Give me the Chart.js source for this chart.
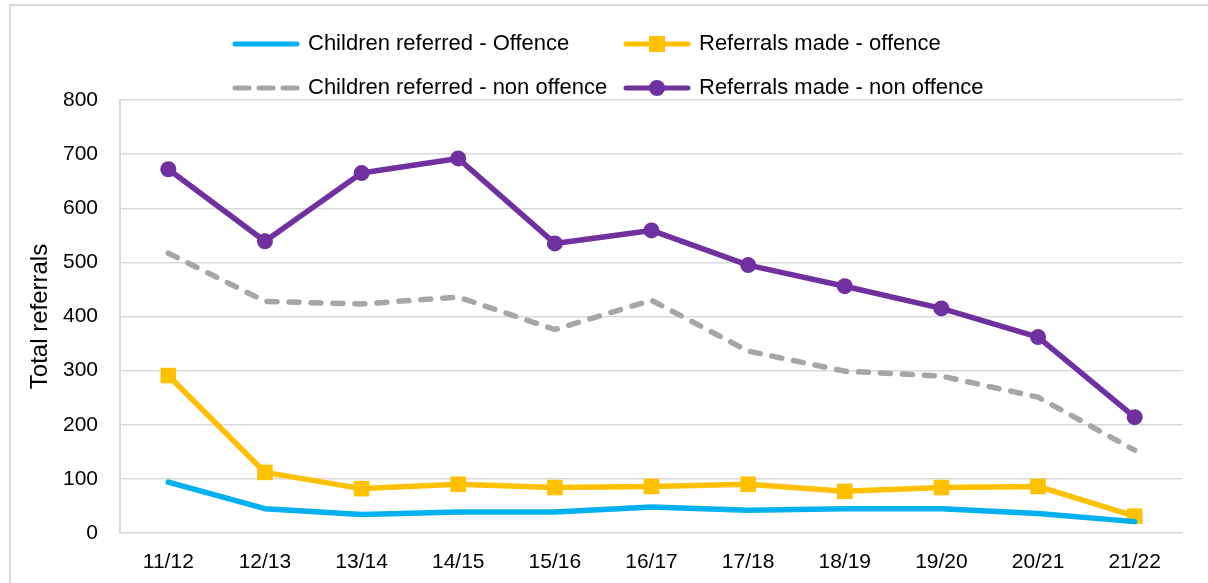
<!DOCTYPE html>
<html>
<head>
<meta charset="utf-8">
<script src="https://cdn.jsdelivr.net/npm/chart.js@4"></script>
<style>
  html, body { margin: 0; padding: 0; background: #fff; overflow: hidden; }
  #wrap { position: relative; width: 1208px; height: 583px; }
  #frame { position: absolute; left: 9px; top: 4px; width: 1220px; height: 600px; border: 2px solid #d9d9d9; box-sizing: border-box; }
  canvas { position: absolute; left: 0; top: 0; }
  .lg { position: absolute; font-family: 'Liberation Sans', Arial, sans-serif; font-size: 22px; color: #000; height: 30px; line-height: 30px; white-space: nowrap; }
  .lg canvas { position: static; vertical-align: middle; margin-right: 7px; }
</style>
</head>
<body>
<div id="wrap">
  <div id="frame"></div>
  <canvas id="chart" width="1208" height="583"></canvas>
  <div id="legend"></div>
</div>
<script>
// ===== data =====
const years = ['11/12', '12/13', '13/14', '14/15', '15/16', '16/17', '17/18', '18/19', '19/20', '20/21', '21/22'];
const childrenOffence = [94, 45, 34, 39, 39, 48, 42, 45, 45, 36, 21];
const referralsOffence = [291, 112, 82, 90, 84, 86, 90, 77, 84, 86, 31];
const childrenNonOffence = [517, 428, 423, 436, 376, 430, 336, 299, 290, 251, 153];
const referralsNonOffence = [672, 539, 665, 692, 535, 559, 495, 456, 415, 362, 214];
const yTicks = [0, 100, 200, 300, 400, 500, 600, 700, 800];

const FONT = "'Liberation Sans', Arial, sans-serif";

const series = [
  { label: 'Children referred - Offence', data: childrenOffence, color: '#00b0f0', point: false, dash: [] },
  { label: 'Referrals made - offence', data: referralsOffence, color: '#ffc000', point: 'rect', radius: 11, dash: [] },
  { label: 'Children referred - non offence', data: childrenNonOffence, color: '#a6a6a6', point: false, dash: [10, 12] },
  { label: 'Referrals made - non offence', data: referralsNonOffence, color: '#7030a0', point: 'circle', radius: 8, dash: [] },
];

new Chart(document.getElementById('chart'), {
  type: 'line',
  data: {
    labels: years,
    datasets: series.map(s => ({
      label: s.label,
      data: s.data,
      borderColor: s.color,
      backgroundColor: s.color,
      borderWidth: 5.5,
      borderDash: s.dash,
      borderCapStyle: 'round',
      borderJoinStyle: 'round',
      pointStyle: s.point || 'circle',
      pointRadius: s.point ? s.radius : 0,
      pointHoverRadius: s.point ? s.radius : 0,
      pointBorderWidth: 0,
      tension: 0,
    })),
  },
  options: {
    responsive: false,
    animation: false,
    layout: { padding: { top: 100, right: 25, bottom: 0, left: 0 } },
    plugins: { legend: { display: false }, tooltip: { enabled: false } },
    scales: {
      x: {
        offset: true,
        grid: { display: false, drawTicks: false },
        border: { display: false },
        ticks: { color: '#000', font: { family: FONT, size: 21 }, padding: 17, maxRotation: 0 },
        afterFit: s => { s.height = 50; },
      },
      y: {
        min: 0,
        max: 800,
        afterBuildTicks: s => { s.ticks = yTicks.map(v => ({ value: v })); },
        grid: { color: '#d9d9d9', lineWidth: 1.5, drawTicks: false },
        border: { display: true, color: '#d9d9d9', width: 2 },
        ticks: { color: '#000', font: { family: FONT, size: 21 }, padding: 22 },
        title: { display: true, text: 'Total referrals', color: '#000', font: { family: FONT, size: 24 }, padding: { top: 26, bottom: 0 } },
        afterFit: s => { s.width = 120; },
      },
    },
  },
});

// ===== legend (2 x 2 like the original) =====
const legendPos = [
  { left: 231, top: 28 },
  { left: 622, top: 28 },
  { left: 231, top: 72 },
  { left: 622, top: 72 },
];
const legendEl = document.getElementById('legend');
series.forEach((s, i) => {
  const div = document.createElement('div');
  div.className = 'lg';
  div.style.left = legendPos[i].left + 'px';
  div.style.top = legendPos[i].top + 'px';
  const c = document.createElement('canvas');
  c.width = 70; c.height = 24;
  const g = c.getContext('2d');
  g.strokeStyle = s.color;
  g.fillStyle = s.color;
  g.lineWidth = 5;
  g.lineCap = 'round';
  g.setLineDash(s.dash.length ? [14, 10] : []);
  g.beginPath(); g.moveTo(4, 12); g.lineTo(66, 12); g.stroke();
  g.setLineDash([]);
  if (s.point === 'rect') g.fillRect(35 - 8, 12 - 8, 16, 16);
  if (s.point === 'circle') { g.beginPath(); g.arc(35, 12, 8, 0, Math.PI * 2); g.fill(); }
  div.appendChild(c);
  div.appendChild(document.createTextNode(s.label));
  legendEl.appendChild(div);
});
</script>
</body>
</html>
